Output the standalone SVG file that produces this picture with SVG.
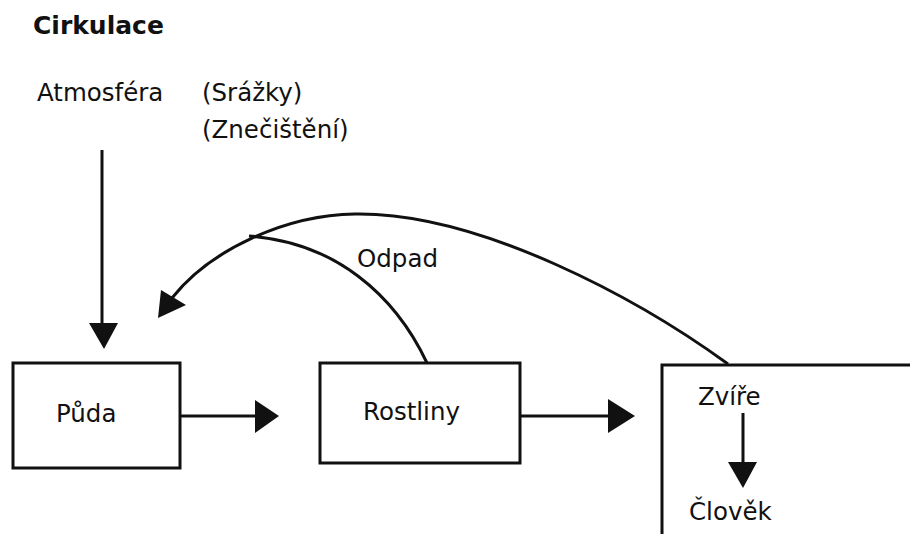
<svg xmlns="http://www.w3.org/2000/svg" width="910" height="534" viewBox="0 0 910 534">
<defs>
<style>
.t{font-family:"DejaVu Sans","Liberation Sans",sans-serif;font-size:24.5px;fill:#111}
.b{font-weight:bold;font-size:25px}
.box{fill:none;stroke:#111;stroke-width:3}
.ln{fill:none;stroke:#111;stroke-width:3}
</style>
</defs>
<rect width="910" height="534" fill="#fff"/>
<text class="t b" x="33" y="34">Cirkulace</text>
<g id="atmosfera"><text class="t" x="37" y="101">Atmosféra</text></g>
<g id="srazky"><text class="t" x="202" y="101">(Srážky)</text><text class="t" x="202" y="138">(Znečištění)</text></g>
<g id="puda"><rect class="box" x="13" y="363" width="167" height="105"/><text class="t" x="56" y="422">Půda</text></g>
<g id="rostliny"><rect class="box" x="320" y="363" width="200" height="100"/><text class="t" x="363" y="420">Rostliny</text></g>
<g id="zvire"><path class="box" d="M662,540 L662,365 L912,365"/><text class="t" x="698" y="405">Zvíře</text><text class="t" x="689" y="520">Člověk</text></g>
<g id="odpad"><text class="t" x="357" y="267">Odpad</text></g>
<g id="connectors">
<path class="ln" d="M102,150 L102,330"/>
<path d="M89,323 L118,323 L104,349 z" fill="#111"/>
<path class="ln" d="M180,416 L258,416"/>
<path d="M255,400 L279,416 L255,433 z" fill="#111"/>
<path class="ln" d="M520,416 L612,416"/>
<path d="M608,399 L635,416 L608,433 z" fill="#111"/>
<path class="ln" d="M743,413 L743,466"/>
<path d="M728,462 L757,462 L743,488 z" fill="#111"/>
<path class="ln" d="M728,364 C640,300 480,212 355,214 C285,215 210,250 172,298"/>
<path d="M158,318 L161,290 L186,305 z" fill="#111"/>
<path class="ln" d="M427,363 C395,295 335,242 249,236"/>
</g>
</svg>
